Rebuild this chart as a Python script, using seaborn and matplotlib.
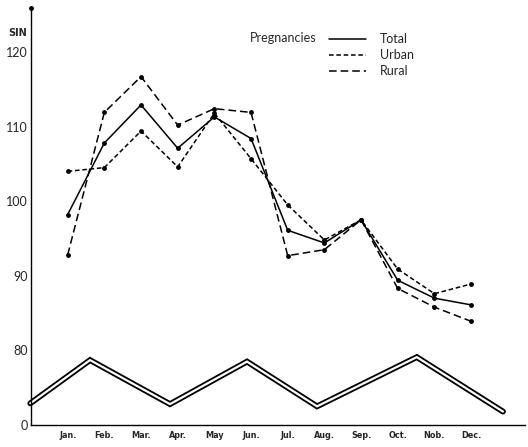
import pandas as pd
import numpy as np
import seaborn as sns
import matplotlib.pyplot as plt
from matplotlib.lines import Line2D

sns.set_style('white')
plt.rcParams['font.family'] = ['Lato', 'DejaVu Sans']

# Données
mois = ['Jan.', 'Feb.', 'Mar.', 'Apr.', 'May', 'Jun.', 'Jul.', 'Aug.', 'Sep.', 'Oct.', 'Nob.', 'Dec.']
total = [98.2, 107.8, 112.9, 107.1, 111.3, 108.4, 96.1, 94.4, 97.5, 89.4, 87.0, 86.1]
urbain = [104.0, 104.5, 109.4, 104.6, 111.8, 105.7, 99.5, 94.8, 97.5, 90.9, 87.6, 88.9]
rural = [92.8, 111.9, 116.7, 110.2, 112.4, 111.9, 92.7, 93.5, 97.5, 88.3, 85.8, 83.9]

# Ligne de rupture (zigzag en bas)
zig_x = [-1.02, 0.61, 2.79, 4.89, 6.80, 9.52, 11.87]
zig_y = [72.9, 78.7, 72.8, 78.5, 72.5, 79.1, 71.8]

yticks = [70, 80, 90, 100, 110, 120]
ytick_labels = ['0', '80', '90', '100', '110', '120']

donnees = pd.DataFrame({'mois': np.arange(len(mois)), 'Total': total, 'Urban': urbain, 'Rural': rural})

fig = plt.figure(figsize=(5.28, 4.47), dpi=100)
ax = fig.add_axes([0.0587, 0.0492, 0.9356, 0.933])

styles = {'Total': '-', 'Urban': (0, (3.0, 1.8)), 'Rural': (0, (5.0, 2.6))}
for serie in ['Total', 'Urban', 'Rural']:
    sns.lineplot(x='mois', y=serie, data=donnees, ax=ax, color='black', linewidth=1.1,
                 linestyle=styles[serie], marker='o', markersize=3.5, markeredgewidth=0)

# double ligne
ax.plot(zig_x, zig_y, color='black', linewidth=4.2, solid_joinstyle='miter', clip_on=False)
ax.plot(zig_x, zig_y, color='white', linewidth=1.6, solid_joinstyle='miter', clip_on=False)

ax.set_xlim(-1.0, 12.47)
ax.set_ylim(70, 125.9)
ax.set_xticks(np.arange(len(mois)))
ax.set_xticklabels(mois, fontsize=6.5, fontweight='bold', family='DejaVu Sans', stretch='condensed')
ax.set_yticks(yticks)
ax.set_yticklabels(ytick_labels, fontsize=9)
ax.tick_params(axis='both', direction='in', length=5, width=0.8, color='black', pad=2)
ax.tick_params(axis='x', length=4, pad=4)
ax.set_xlabel('')
ax.set_ylabel('')
for cote in ['top', 'right']:
    ax.spines[cote].set_visible(False)
for cote in ['left', 'bottom']:
    ax.spines[cote].set_color('black')
    ax.spines[cote].set_linewidth(1.0)
ax.plot([0], [1], marker='o', markersize=2.5, color='black', transform=ax.transAxes, clip_on=False)

fig.text(0.016, 0.926, 'SIN', fontsize=7, fontweight='bold', family='DejaVu Sans', ha='left', va='center')

# Légende
poignees = [Line2D([], [], color='black', linewidth=1.1, linestyle=styles[s]) for s in ['Total', 'Urban', 'Rural']]
leg = ax.legend(poignees, ['Total', 'Urban', 'Rural'], loc='upper left', bbox_to_anchor=(0.58, 0.966),
                frameon=False, fontsize=9, handlelength=3.0, handletextpad=1.1, labelspacing=0.32)
ax.text(0.578, 0.928, 'Pregnancies', transform=ax.transAxes, fontsize=9, ha='right', va='center')

plt.savefig('out.png', dpi=100)
